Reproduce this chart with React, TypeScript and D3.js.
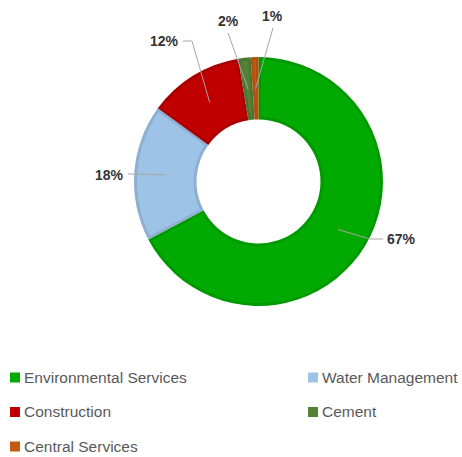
import { useEffect, useRef } from "react"
import * as d3 from "d3"

// slice data, clockwise from 12 o'clock
const categories = ["Environmental Services", "Water Management", "Construction", "Cement", "Central Services"]
const values = [67.3, 17.7, 12.4, 1.6, 1.0]
const labels = ["67%", "18%", "12%", "2%", "1%"]
const fills = ["#00AA00", "#9DC3E6", "#C00000", "#548235", "#C55A11"]
const borders = ["#009900", "#8DAFD2", "#A80000", "#4A7530", "#B04F0E"]

export default function App() {
    const ref = useRef<SVGSVGElement>(null)

    useEffect(() => {
        buildGraph()
    }, [])

    function buildGraph({
        cx = 258.5,
        cy = 181.5,
        outerRadius = 124.5,
        innerRadius = 62,
    } = {}) {
        const svg = d3.select(ref.current)
        svg.selectAll("*").remove()

        const data = categories.map((c, i) => ({ id: c, value: values[i], label: labels[i], fill: fills[i], border: borders[i] }))

        const pie = d3.pie<any>().sort(null).value(d => d.value)
        const arcs = pie(data)

        const outer = d3.arc<any>().innerRadius(innerRadius).outerRadius(outerRadius)
        const inner = d3.arc<any>()
            .innerRadius(innerRadius + 3)
            .outerRadius(outerRadius - 3)
            .padRadius(100)
            .padAngle(0.05)
        const mid = d3.arc<any>().innerRadius(93).outerRadius(93)

        const g = svg.append("g").attr("transform", `translate(${cx},${cy})`)

        // darker rim, then lighter body
        g.append("g")
            .selectAll("path")
            .data(arcs)
            .join("path")
                .attr("fill", d => d.data.border)
                .attr("d", outer)
        g.append("g")
            .selectAll("path")
            .data(arcs)
            .join("path")
                .attr("fill", d => d.data.fill)
                .attr("d", inner)

        // label placement relative to centre: elbow point, end of line, text anchor point
        const layout = [
            { elbow: [111.5, 57.5], end: [124.5, 57.5], text: [128.5, 58], anchor: "start" },
            { elbow: [-130.5, -7.5], end: [-130.5, -7.5], text: [-135.5, -6.5], anchor: "end" },
            { elbow: [-66.5, -140.5], end: [-75.5, -140.5], text: [-80.5, -140], anchor: "end" },
            { elbow: [-30.5, -148.5], end: [-30.5, -148.5], text: [-30.5, -160.5], anchor: "middle" },
            { elbow: [14.5, -153.5], end: [14.5, -153.5], text: [13.5, -165.5], anchor: "middle" },
        ]

        const line = d3.line()
        g.append("g")
                .attr("fill", "none")
                .attr("stroke", "#A6A6A6")
                .attr("stroke-width", 1)
            .selectAll("path")
            .data(arcs)
            .join("path")
                .attr("d", (d, i) => line([mid.centroid(d), layout[i].elbow as [number, number], layout[i].end as [number, number]]))

        g.append("g")
                .attr("font-family", "'Liberation Sans', Arial, sans-serif")
                .attr("font-weight", "bold")
                .attr("font-size", 14)
                .attr("fill", "#333333")
            .selectAll("text")
            .data(arcs)
            .join("text")
                .attr("x", (d, i) => layout[i].text[0])
                .attr("y", (d, i) => layout[i].text[1])
                .attr("dy", "0.35em")
                .attr("text-anchor", (d, i) => layout[i].anchor)
                .text(d => d.data.label)

        // legend, two columns
        const col = d3.scaleOrdinal<number, number>().domain([0, 1]).range([10, 308])
        const row = d3.scaleLinear().domain([0, 2]).range([377.5, 446.5])

        const items = svg.append("g")
            .selectAll("g")
            .data(data)
            .join("g")
                .attr("transform", (d, i) => `translate(${col(i % 2)},${row(Math.floor(i / 2))})`)
        items.append("rect")
            .attr("x", 0)
            .attr("y", -5)
            .attr("width", 10)
            .attr("height", 10)
            .attr("fill", d => d.fill)
        items.append("text")
            .attr("x", 14)
            .attr("dy", "0.35em")
            .attr("font-family", "'Liberation Sans', Arial, sans-serif")
            .attr("font-size", 15.5)
            .attr("fill", "#595959")
            .text(d => d.id)
    }

    return (
        <div style={{ position: "absolute", left: 0, top: 0 }}>
            <svg ref={ref} width={462} height={457} viewBox="0 0 462 457" style={{ display: "block" }} />
        </div>
    )
}
